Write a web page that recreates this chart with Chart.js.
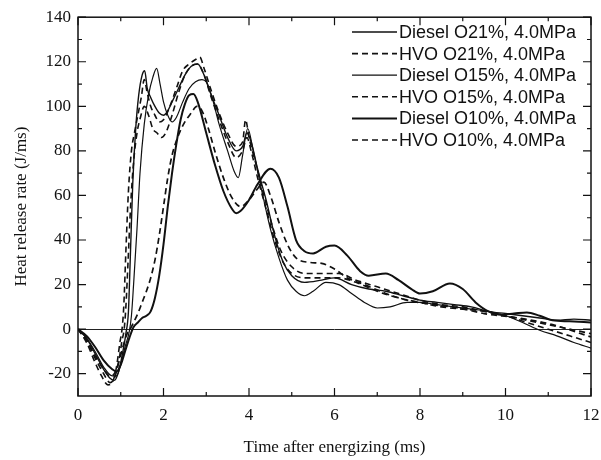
<!DOCTYPE html>
<html>
<head>
  <title>Heat release rate</title>
  <script src="https://cdn.jsdelivr.net/npm/chart.js"></script>
  <style>
    html, body { margin: 0; padding: 0; background: #fff; }
    #wrap { width: 601px; height: 460px; }
  </style>
</head>
<body>
  <div id="wrap"><canvas id="myChart" width="601" height="460"></canvas></div>
  <script>
    // tick labels
    var xTicks = [0, 2, 4, 6, 8, 10, 12];
    var yTicks = [-20, 0, 20, 40, 60, 80, 100, 120, 140];

    var labels = [
      'Diesel O21%, 4.0MPa',
      'HVO O21%, 4.0MPa',
      'Diesel O15%, 4.0MPa',
      'HVO O15%, 4.0MPa',
      'Diesel O10%, 4.0MPa',
      'HVO O10%, 4.0MPa'
    ];

    // [time (ms), heat release rate (J/ms)]
    var dieselO21 = [[0,0],[0.2,-4],[0.4,-11],[0.6,-18],[0.75,-22],[0.85,-23],[0.95,-19],[1.05,-10],[1.12,-2],[1.18,8],[1.22,30],[1.28,65],[1.35,90],[1.42,105],[1.5,114],[1.56,116],[1.62,108],[1.7,104],[1.8,100],[1.9,97],[2.0,96],[2.1,98],[2.2,102],[2.35,108],[2.5,114],[2.65,118],[2.8,119],[2.95,114],[3.1,106],[3.3,96],[3.5,86],[3.7,80],[3.85,82],[3.95,88],[4.05,84],[4.2,72],[4.4,58],[4.6,42],[4.8,30],[5.0,24],[5.3,21],[5.7,22],[6.0,23],[6.4,20],[6.8,18],[7.2,17],[7.6,15],[8.0,13],[8.4,12],[8.8,11],[9.2,10],[9.6,8],[10.0,7],[10.4,6],[10.8,5],[11.2,4],[11.6,4.5],[12,4]];
    var hvoO21 = [[0,0],[0.2,-6],[0.4,-15],[0.55,-21],[0.7,-25],[0.8,-24],[0.9,-17],[0.98,-6],[1.03,0],[1.07,10],[1.12,35],[1.18,62],[1.25,80],[1.32,88],[1.4,96],[1.48,104],[1.55,112],[1.62,106],[1.7,100],[1.8,96],[1.9,93],[2.0,94],[2.15,100],[2.3,108],[2.45,116],[2.6,119],[2.75,121],[2.85,122],[2.95,117],[3.1,108],[3.3,97],[3.5,88],[3.7,82],[3.85,84],[3.92,94],[4.0,86],[4.15,75],[4.35,60],[4.55,46],[4.75,35],[5.0,28],[5.3,25],[5.7,25],[6.1,25],[6.5,22],[7.0,19],[7.5,16],[8.0,13],[8.5,11],[9.0,10],[9.5,8],[10.0,6],[10.5,4],[11.0,2],[11.5,0],[12,-2]];
    var dieselO15 = [[0,0],[0.2,-4],[0.4,-10],[0.6,-17],[0.8,-21],[0.9,-21],[1.0,-16],[1.1,-8],[1.2,-1],[1.25,6],[1.3,20],[1.38,45],[1.45,70],[1.55,92],[1.65,105],[1.75,113],[1.84,117],[1.92,110],[2.0,102],[2.1,96],[2.2,93],[2.3,95],[2.45,102],[2.6,108],[2.75,111],[2.9,112],[3.0,111],[3.15,103],[3.3,92],[3.5,80],[3.65,71],[3.75,68],[3.85,78],[3.97,90],[4.1,80],[4.3,62],[4.5,45],[4.7,32],[4.9,22],[5.1,17],[5.3,15],[5.5,17],[5.8,21],[6.1,20],[6.4,16],[6.7,12],[7.0,9.5],[7.3,10],[7.7,12],[8.0,12],[8.4,11],[8.8,10],[9.2,9],[9.6,8],[10.0,6],[10.4,3],[10.8,-0.5],[11.2,-3],[11.6,-6],[12,-8.5]];
    var hvoO15 = [[0,0],[0.2,-5],[0.4,-13],[0.6,-20],[0.75,-24],[0.85,-22],[0.95,-15],[1.03,-5],[1.08,0],[1.12,10],[1.17,30],[1.23,55],[1.3,75],[1.38,88],[1.46,95],[1.55,100],[1.65,96],[1.75,90],[1.85,88],[1.95,86],[2.05,88],[2.2,96],[2.35,106],[2.5,114],[2.65,118],[2.8,119],[2.95,114],[3.1,105],[3.3,94],[3.5,84],[3.7,77],[3.85,80],[3.95,86],[4.05,80],[4.2,68],[4.4,54],[4.6,40],[4.8,30],[5.0,25],[5.3,23],[5.7,23],[6.1,23],[6.5,21],[7.0,17],[7.5,14],[8.0,12],[8.5,10],[9.0,9],[9.5,8],[10.0,6],[10.5,3],[11.0,0],[11.5,-3],[12,-6]];
    var dieselO10 = [[0,0],[0.2,-3],[0.4,-8],[0.6,-14],[0.8,-18],[0.9,-19],[1.0,-16],[1.1,-10],[1.2,-4],[1.3,1],[1.4,3],[1.5,5],[1.6,6],[1.7,8],[1.8,14],[1.9,24],[2.0,38],[2.1,55],[2.2,70],[2.3,83],[2.4,94],[2.5,101],[2.6,105],[2.7,105.5],[2.8,102],[3.0,88],[3.2,74],[3.4,62],[3.6,54],[3.7,52],[3.8,53],[4.0,58],[4.2,65],[4.5,72],[4.7,68],[4.9,55],[5.1,40],[5.3,35],[5.5,34],[5.8,37],[6.0,37.5],[6.3,33],[6.6,26],[6.8,24],[7.2,25],[7.5,22],[7.8,18],[8.0,16],[8.3,17],[8.7,20.5],[9.0,18],[9.3,12],[9.6,8],[9.9,6.5],[10.2,7],[10.5,7.5],[10.8,6],[11.1,4],[11.5,3.5],[12,3]];
    var hvoO10 = [[0,0],[0.2,-5],[0.4,-12],[0.6,-18],[0.75,-21],[0.85,-20],[0.95,-15],[1.05,-8],[1.15,-2],[1.22,0],[1.3,3],[1.4,7],[1.5,12],[1.6,17],[1.7,23],[1.8,31],[1.9,42],[2.0,55],[2.1,68],[2.2,78],[2.35,87],[2.5,93],[2.65,97],[2.78,100],[2.9,98],[3.05,90],[3.2,80],[3.4,68],[3.6,59],[3.8,55],[4.0,58],[4.2,63],[4.35,66],[4.5,60],[4.7,48],[4.9,38],[5.1,32],[5.4,30],[5.7,29.5],[6.0,27],[6.3,23],[6.7,20],[7.2,16],[7.7,13],[8.3,11],[8.9,9.5],[9.5,7],[10.3,5],[11.1,2],[12,-3.5]];

    var series = [dieselO21, hvoO21, dieselO15, hvoO15, dieselO10, hvoO10];
    var dashed = [false, true, false, true, false, true];
    var widths = [1.4, 1.6, 1.2, 1.6, 2.0, 1.7];

    var serif = '"Liberation Serif", "DejaVu Serif", serif';
    var sans = '"Liberation Sans", Arial, sans-serif';

    var datasets = series.map(function (s, i) {
      return {
        label: labels[i],
        data: s.map(function (p) { return { x: p[0], y: p[1] }; }),
        borderColor: '#111',
        backgroundColor: '#111',
        borderWidth: widths[i],
        borderDash: dashed[i] ? [6, 4] : [],
        pointRadius: 0,
        fill: false,
        cubicInterpolationMode: 'monotone'
      };
    });

    // frame with inward ticks on all four sides, plus the legend
    var framePlugin = {
      id: 'frame',
      afterDraw: function (chart) {
        var c = chart.ctx, a = chart.chartArea;
        var xs = chart.scales.x, ys = chart.scales.y;
        c.save();
        c.strokeStyle = '#111';
        c.lineWidth = 1.5;
        c.setLineDash([]);
        c.strokeRect(a.left, a.top, a.right - a.left, a.bottom - a.top);
        c.lineWidth = 1.2;
        c.beginPath();
        for (var t = 0; t <= 12; t++) {
          var px = xs.getPixelForValue(t);
          var len = t % 2 === 0 ? 8 : 4;
          c.moveTo(px, a.bottom); c.lineTo(px, a.bottom - len);
          c.moveTo(px, a.top); c.lineTo(px, a.top + len);
        }
        for (var v = -20; v <= 140; v += 10) {
          var py = ys.getPixelForValue(v);
          var l2 = v % 20 === 0 ? 8 : 4;
          c.moveTo(a.left, py); c.lineTo(a.left + l2, py);
          c.moveTo(a.right, py); c.lineTo(a.right - l2, py);
        }
        c.stroke();

        // legend
        var lx0 = 352, lx1 = 397, ly = 32, step = 21.6;
        c.font = '18px ' + sans;
        c.textBaseline = 'middle';
        c.textAlign = 'left';
        c.fillStyle = '#111';
        chart.data.datasets.forEach(function (ds, i) {
          var y = ly + i * step;
          c.lineWidth = ds.borderWidth;
          c.setLineDash(ds.borderDash);
          c.beginPath();
          c.moveTo(lx0, y); c.lineTo(lx1, y);
          c.stroke();
          c.setLineDash([]);
          c.fillText(ds.label, lx1 + 2, y + 1);
        });
        c.restore();
      }
    };

    var ctx = document.getElementById('myChart').getContext('2d');
    var myChart = new Chart(ctx, {
      type: 'line',
      data: { datasets: datasets },
      plugins: [framePlugin],
      options: {
        responsive: false,
        animation: false,
        layout: { padding: { top: 16, right: 10, left: 0, bottom: 0 } },
        plugins: { legend: { display: false }, tooltip: { enabled: false } },
        scales: {
          x: {
            type: 'linear',
            min: 0,
            max: 12,
            afterBuildTicks: function (scale) {
              scale.ticks = xTicks.map(function (v) { return { value: v }; });
            },
            afterFit: function (scale) {
              scale.height = 64;
              scale.paddingLeft = 0;
              scale.paddingRight = 0;
            },
            grid: { display: false, drawTicks: false },
            border: { display: false },
            ticks: {
              color: '#111',
              padding: 9,
              maxRotation: 0,
              font: { family: serif, size: 17 }
            },
            title: {
              display: true,
              text: 'Time after energizing (ms)',
              color: '#111',
              padding: { top: 0, bottom: 2 },
              font: { family: serif, size: 17 }
            }
          },
          y: {
            type: 'linear',
            min: -30,
            max: 140,
            afterBuildTicks: function (scale) {
              scale.ticks = yTicks.map(function (v) { return { value: v }; });
            },
            afterFit: function (scale) { scale.width = 78; },
            grid: {
              drawTicks: false,
              lineWidth: 1,
              color: function (c) { return c.tick && c.tick.value === 0 ? '#222' : 'rgba(0,0,0,0)'; }
            },
            border: { display: false },
            ticks: {
              color: '#111',
              padding: 7,
              font: { family: serif, size: 17 }
            },
            title: {
              display: true,
              text: 'Heat release rate (J/ms)',
              color: '#111',
              padding: { top: 11, bottom: 0 },
              font: { family: serif, size: 17 }
            }
          }
        }
      }
    });
  </script>
</body>
</html>
